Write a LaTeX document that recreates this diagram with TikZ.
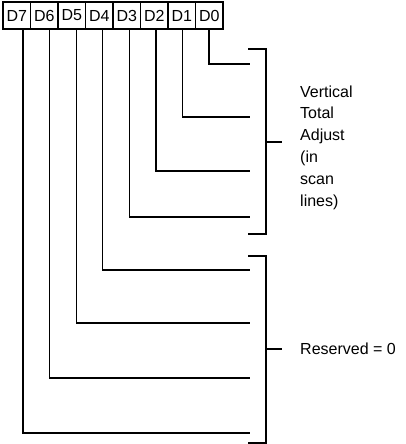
\documentclass[tikz,border=0pt]{standalone}
\usepackage{fontspec}
\setmainfont{Liberation Sans}
\usepackage{tikz}
\usetikzlibrary{calc}
\tikzset{
  bitbox/.style={draw, line width=1.2pt, minimum width=27.5pt, minimum height=27pt, inner sep=0pt, font=\fontsize{16}{18}\selectfont},
  wire/.style={line width=1.3pt},
  fieldtext/.style={anchor=west, align=left, inner sep=0pt, font=\fontsize{16}{21.8}\selectfont}
}

\begin{document}
\begin{tikzpicture}[x=1pt, y=-1pt]
			%%%%% START %%%%%
			\useasboundingbox (0, 0) rectangle (406, 444);
			
			% register bits D7 .. D0
			\foreach \i in {0,...,7}
				\node[bitbox] (d\i) at ({3 + 27.5*(7-\i) + 13.75}, 15.5) {D\i};
			
			% one wire per bit, down and over to the brackets
			\foreach \i/\y in {0/64, 1/117, 2/171, 3/217, 4/270, 5/323, 6/378, 7/433} {
				\coordinate (top\i) at ({209 - 26.57*\i}, 29);
				\coordinate (end\i) at (250, \y);
				\draw[wire] (top\i) |- (end\i);
			}
			
			% bracket for D0 .. D3
			\draw[wire] (248, 49) -- (266, 49) -- (266, 234) -- (248, 234);
			\coordinate (vta) at (282, 142);
			\draw[wire] (266, 142) -- (vta);
			\node[fieldtext] (vtatext) at (300, 147.5) {Vertical\\Total\\Adjust\\(in\\scan\\lines)};
			
			% bracket for D4 .. D7
			\draw[wire] (248, 256) -- (266, 256) -- (266, 443) -- (248, 443);
			\coordinate (rsv) at (282, 349);
			\draw[wire] (266, 349) -- (rsv);
			\node[fieldtext] (rsvtext) at (300, 349) {Reserved = 0};
			
			%%%%% END %%%%%
\end{tikzpicture}
\end{document}
